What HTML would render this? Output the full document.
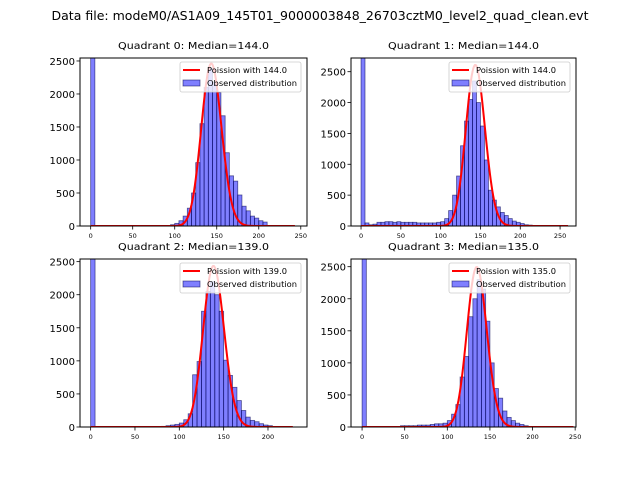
<!DOCTYPE html>
<html><head><meta charset="utf-8"><style>
body{margin:0;background:#fff;}
svg{display:block;font-family:"DejaVu Sans","Liberation Sans",sans-serif;}
</style></head><body>
<svg id="fig" width="640" height="480" viewBox="0 0 640 480" xmlns="http://www.w3.org/2000/svg">
<rect width="640" height="480" fill="#fff"/>
<text x="320" y="20" font-size="12" text-anchor="middle" textLength="537" lengthAdjust="spacingAndGlyphs">Data file: modeM0/AS1A09_145T01_9000003848_26703cztM0_level2_quad_clean.evt</text>
</svg>
<script>
const titles=["Quadrant 0: Median=144.0","Quadrant 1: Median=144.0","Quadrant 2: Median=139.0","Quadrant 3: Median=135.0"];
const lambdas=[144,144,139,135];
const curveNorm=[74050,78490,71960,72660];
const curveEnd=[243,260,228,248];
const binStart0=[0,95,100,105,110,115,120,125,130,135,140,145,150,155,160,165,170,175,180,185,190,195,200,205];
const counts0=[5000,20,40,80,150,270,500,960,1550,2100,2390,2180,2020,1670,1110,760,680,470,300,230,150,120,80,60];
const binStart1=[0,5,10,15,20,25,30,35,40,45,50,55,60,65,70,75,80,85,90,95,100,105,110,115,120,125,130,135,140,145,150,155,160,165,170,175,180,185,190,195,200,205,210];
const counts1=[5000,50,20,30,60,60,70,70,60,70,60,60,60,60,50,50,50,50,50,60,70,120,250,500,810,1300,1700,2050,2350,2000,1620,1070,580,420,310,220,170,120,80,60,40,20,15];
const binStart2=[0,80,85,90,95,100,105,110,115,120,125,130,135,140,145,150,155,160,165,170,175,180,185,190,195,200];
const counts2=[5000,10,20,30,40,60,110,200,790,990,1750,2050,2200,2000,1750,1010,780,600,400,250,150,100,80,50,30,20];
const binStart3=[0,45,50,55,60,65,70,75,80,85,90,95,100,105,110,115,120,125,130,135,140,145,150,155,160,165,170,175,180,185,190];
const counts3=[5000,20,20,20,20,30,30,30,40,50,50,60,100,200,350,780,1100,1720,2000,2300,2150,1650,1000,600,450,250,150,100,60,40,20];
const yTicks=[0,500,1000,1500,2000,2500];
const xTicksA=[0,50,100,150,200,250];
const xTicksB=[0,50,100,150,200];
const binW=5;
const panels=[
 {L:80,R:307,T:58,B:226,xmin:-12.7,xmax:257.4,ymax:2545,bins:binStart0,counts:counts0,xt:xTicksA},
 {L:351,R:576,T:58,B:226,xmin:-12.6,xmax:270,ymax:2722,bins:binStart1,counts:counts1,xt:xTicksA},
 {L:80,R:307,T:259,B:427,xmin:-12,xmax:244,ymax:2540,bins:binStart2,counts:counts2,xt:xTicksB},
 {L:351,R:576,T:259,B:427,xmin:-13,xmax:251,ymax:2620,bins:binStart3,counts:counts3,xt:xTicksA}
];
const NS="http://www.w3.org/2000/svg";
const fig=document.getElementById('fig');
function mk(tag,attrs,parent){const e=document.createElementNS(NS,tag);for(const k in attrs)e.setAttribute(k,attrs[k]);(parent||fig).appendChild(e);return e;}
function logFact(k){let s=0;for(let i=2;i<=k;i++)s+=Math.log(i);return s;}
panels.forEach((p,i)=>{
 const sx=v=>p.L+(v-p.xmin)/(p.xmax-p.xmin)*(p.R-p.L);
 const sy=v=>p.B-v/p.ymax*(p.B-p.T);
 const g=mk('g',{});
 
 
 const cid='clip'+i;
 const cp=mk('clipPath',{id:cid},g);mk('rect',{x:p.L,y:p.T,width:p.R-p.L,height:p.B-p.T},cp);
 const bars=mk('g',{'clip-path':'url(#'+cid+')'},g);
 p.bins.forEach((b,j)=>{
  const x0=sx(b),x1=sx(b+binW),y=sy(p.counts[j]);
  const r=mk('rect',{x:x0,y:y,width:x1-x0,height:p.B-y,fill:'rgba(0,0,255,0.5)',stroke:'rgba(0,0,80,0.6)','stroke-width':0.8},bars);
  
  
 });
 let d='';
 for(let k=0;k<=curveEnd[i];k++){
  const v=curveNorm[i]*Math.exp(k*Math.log(lambdas[i])-lambdas[i]-logFact(k));
  d+=(k?'L':'M')+sx(k).toFixed(2)+','+sy(v).toFixed(2);
 }
 const c=mk('path',{d:d,fill:'none',stroke:'#ff0000','stroke-width':2},bars);
 
 
 const fr=mk('rect',{x:p.L,y:p.T,width:p.R-p.L,height:p.B-p.T,fill:'none',stroke:'#000','stroke-width':1},g);
 
 
 yTicks.forEach(t=>{
  const y=sy(t);
  mk('line',{x1:p.L-3.5,x2:p.L,y1:y,y2:y,stroke:'#000','stroke-width':0.8},g);
  const tx=mk('text',{x:p.L-5,y:y+4,'font-size':10,'text-anchor':'end'},g);tx.textContent=t;
  
  
 });
 p.xt.forEach(t=>{
  const x=sx(t);
  mk('line',{x1:x,x2:x,y1:p.B,y2:p.B+3.5,stroke:'#000','stroke-width':0.8},g);
  const tx=mk('text',{x:x,y:p.B+12,'font-size':6.5,'text-anchor':'middle'},g);tx.textContent=t;
  
  
 });
 const tt=mk('text',{x:(p.L+p.R)/2,y:p.T-9,'font-size':10,'text-anchor':'middle',textLength:151,lengthAdjust:'spacingAndGlyphs'},g);tt.textContent=titles[i];
 
 
 const lg=mk('g',{},g);
 
 
 const lx=p.R-127,ly=p.T+4;
 mk('rect',{x:lx,y:ly,width:121,height:30,rx:2,fill:'rgba(255,255,255,0.8)',stroke:'#ccc','stroke-width':0.8},lg);
 mk('line',{x1:lx+3,x2:lx+20,y1:ly+8,y2:ly+8,stroke:'#ff0000','stroke-width':2},lg);
 const t1=mk('text',{x:lx+27,y:ly+11,'font-size':8,textLength:80,lengthAdjust:'spacingAndGlyphs'},lg);t1.textContent='Poission with '+lambdas[i].toFixed(1);
 
 
 mk('rect',{x:lx+3,y:ly+18,width:17,height:6,fill:'rgba(0,0,255,0.5)',stroke:'rgba(0,0,80,0.6)','stroke-width':0.8},lg);
 const t2=mk('text',{x:lx+27,y:ly+24,'font-size':8,textLength:90,lengthAdjust:'spacingAndGlyphs'},lg);t2.textContent='Observed distribution';
 
 
});
</script>
</body></html>
